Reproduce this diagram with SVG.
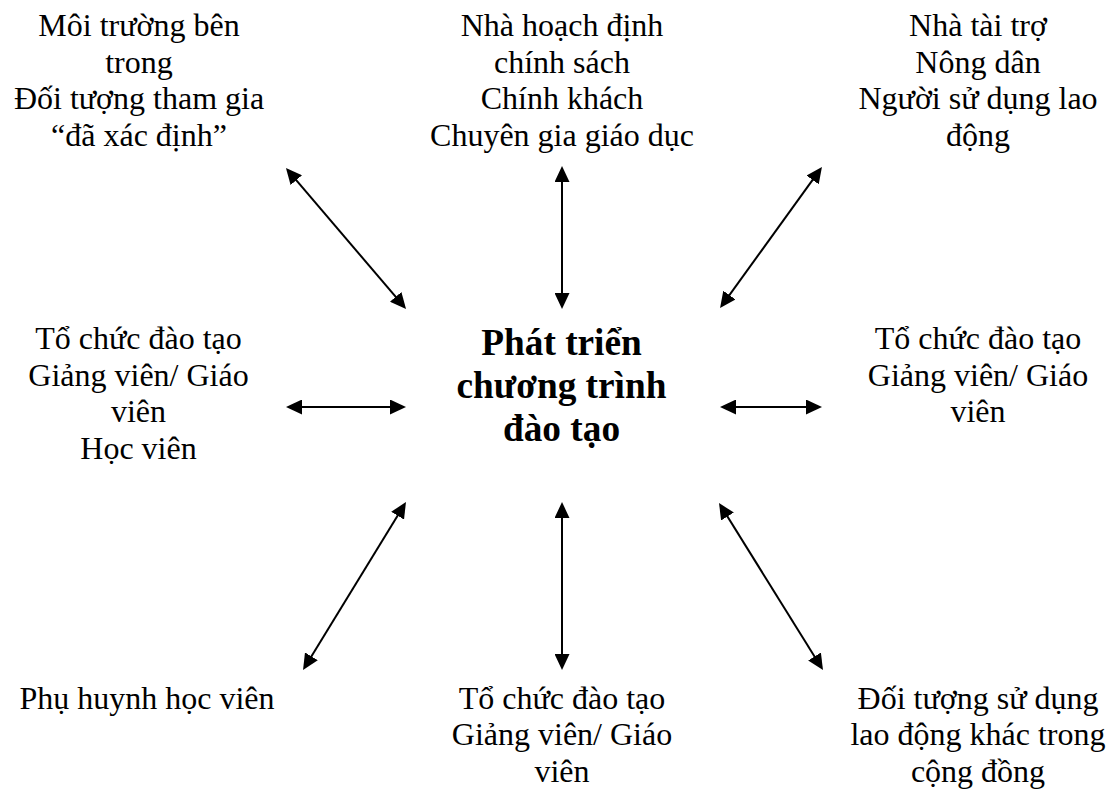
<svg xmlns="http://www.w3.org/2000/svg" width="1110" height="791" viewBox="0 0 1110 791">
  <style>
    text { font-family: "Liberation Serif", "Times New Roman", serif; fill: #000; text-anchor: middle; }
    .lbl { font-size: 32px; }
    .hub { font-size: 37.3px; font-weight: bold; }
    .link { stroke: #000; stroke-width: 2; fill: none; marker-start: url(#head); marker-end: url(#head); }
  </style>
  <defs>
    <marker id="head" markerUnits="userSpaceOnUse" markerWidth="16" markerHeight="15" refX="13" refY="7.5" orient="auto-start-reverse" viewBox="0 0 16 15">
      <path d="M0,0 L16,7.5 L0,15 Z" fill="#000"/>
    </marker>
  </defs>
  <rect width="1110" height="791" fill="#fff"/>

  <!-- double-headed links between the hub and each stakeholder group -->
  <g id="connectors">
    <line class="link" x1="287.9" y1="170.3" x2="404.1" y2="306.7"/>
    <line class="link" x1="562" y1="169" x2="562" y2="306"/>
    <line class="link" x1="820.2" y1="169.4" x2="721.8" y2="305.6"/>
    <line class="link" x1="289" y1="407" x2="403" y2="407"/>
    <line class="link" x1="723" y1="407" x2="819" y2="407"/>
    <line class="link" x1="404.4" y1="504.6" x2="304.6" y2="667.4"/>
    <line class="link" x1="562" y1="505" x2="562" y2="667"/>
    <line class="link" x1="720.6" y1="505.5" x2="821.4" y2="667.5"/>
  </g>

  <g id="hub">
    <text class="hub" x="561.5" y="355">Phát triển</text>
    <text class="hub" x="561.5" y="398">chương trình</text>
    <text class="hub" x="561.5" y="441">đào tạo</text>
  </g>

  <g id="top-left">
    <text class="lbl" x="139" y="36">Môi trường bên</text>
    <text class="lbl" x="139" y="72.5">trong</text>
    <text class="lbl" x="139" y="109">Đối tượng tham gia</text>
    <text class="lbl" x="139" y="145.5">“đã xác định”</text>
  </g>

  <g id="top-center">
    <text class="lbl" x="562" y="36">Nhà hoạch định</text>
    <text class="lbl" x="562" y="72.5">chính sách</text>
    <text class="lbl" x="562" y="109">Chính khách</text>
    <text class="lbl" x="562" y="145.5">Chuyên gia giáo dục</text>
  </g>

  <g id="top-right">
    <text class="lbl" x="978" y="36">Nhà tài trợ</text>
    <text class="lbl" x="978" y="72.5">Nông dân</text>
    <text class="lbl" x="978" y="109">Người sử dụng lao</text>
    <text class="lbl" x="978" y="145.5">động</text>
  </g>

  <g id="middle-left">
    <text class="lbl" x="138.5" y="349">Tổ chức đào tạo</text>
    <text class="lbl" x="138.5" y="385.5">Giảng viên/ Giáo</text>
    <text class="lbl" x="138.5" y="422">viên</text>
    <text class="lbl" x="138.5" y="458.5">Học viên</text>
  </g>

  <g id="middle-right">
    <text class="lbl" x="978" y="349">Tổ chức đào tạo</text>
    <text class="lbl" x="978" y="385.5">Giảng viên/ Giáo</text>
    <text class="lbl" x="978" y="422">viên</text>
  </g>

  <g id="bottom-left">
    <text class="lbl" x="147" y="708.5">Phụ huynh học viên</text>
  </g>

  <g id="bottom-center">
    <text class="lbl" x="562" y="708.5">Tổ chức đào tạo</text>
    <text class="lbl" x="562" y="745">Giảng viên/ Giáo</text>
    <text class="lbl" x="562" y="781.5">viên</text>
  </g>

  <g id="bottom-right">
    <text class="lbl" x="978" y="708.5">Đối tượng sử dụng</text>
    <text class="lbl" x="978" y="745">lao động khác trong</text>
    <text class="lbl" x="978" y="781.5">cộng đồng</text>
  </g>
</svg>
